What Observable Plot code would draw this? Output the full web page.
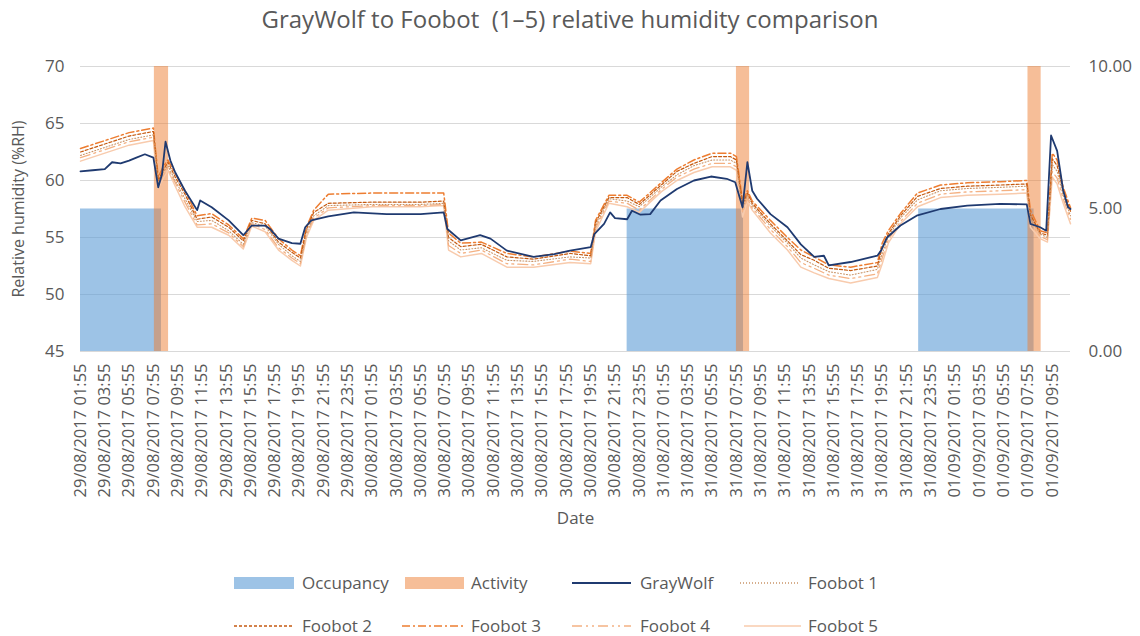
<!DOCTYPE html>
<html><head><meta charset="utf-8">
<script src="https://cdn.jsdelivr.net/npm/d3@7"></script>
<script src="https://cdn.jsdelivr.net/npm/@observablehq/plot@0.6"></script>
<style>
body{margin:0;background:#fff;font-family:"Open Sans",sans-serif;color:#595959;}
#title{height:40px;line-height:38px;text-align:center;font-size:24px;white-space:pre;}
#chart svg, #legend svg{display:block;}
</style></head><body>
<div id="title">GrayWolf to Foobot  (1–5) relative humidity comparison</div>
<div id="chart"></div>
<div id="legend"></div>
<script>
// ---- data ----
const tickLabels = [
 "29/08/2017 01:55","29/08/2017 03:55","29/08/2017 05:55","29/08/2017 07:55","29/08/2017 09:55","29/08/2017 11:55",
 "29/08/2017 13:55","29/08/2017 15:55","29/08/2017 17:55","29/08/2017 19:55","29/08/2017 21:55","29/08/2017 23:55",
 "30/08/2017 01:55","30/08/2017 03:55","30/08/2017 05:55","30/08/2017 07:55","30/08/2017 09:55","30/08/2017 11:55",
 "30/08/2017 13:55","30/08/2017 15:55","30/08/2017 17:55","30/08/2017 19:55","30/08/2017 21:55","30/08/2017 23:55",
 "31/08/2017 01:55","31/08/2017 03:55","31/08/2017 05:55","31/08/2017 07:55","31/08/2017 09:55","31/08/2017 11:55",
 "31/08/2017 13:55","31/08/2017 15:55","31/08/2017 17:55","31/08/2017 19:55","31/08/2017 21:55","31/08/2017 23:55",
 "01/09/2017 01:55","01/09/2017 03:55","01/09/2017 05:55","01/09/2017 07:55","01/09/2017 09:55"
];
const leftTicks = [45, 50, 55, 60, 65, 70];
const rightTicks = [0, 5, 10];

// Occupancy / Activity periods (secondary axis value)
const occStart = ["29/08/2017 01:55", "30/08/2017 22:55", "31/08/2017 22:55"];
const occEnd   = ["29/08/2017 08:35", "31/08/2017 08:30", "01/09/2017 08:25"];
const occValue = [5, 5, 5];
const actStart = ["29/08/2017 08:00", "31/08/2017 07:55", "01/09/2017 07:55"];
const actEnd   = ["29/08/2017 09:10", "31/08/2017 09:00", "01/09/2017 09:00"];
const actValue = [10, 10, 10];

// hours after 29/08/2017 01:55
const gwHours = [0,1,2,2.6,3.3,4,4.6,5.3,6,6.4,6.7,7.0,7.4,7.8,8.6,9.6,9.85,10.8,12.2,13.4,14.1,15.2,15.6,16.3,17.4,18.1,18.5,19.0,20.4,22.5,25.2,28,29.9,30.2,31.3,32.9,33.75,35.1,37.3,39,40.3,42.0,42.3,43.1,43.6,44.0,45.0,45.4,46.1,46.9,47.75,49.1,50.5,51.9,53.2,53.9,54.5,54.9,55.3,55.7,56.8,58.2,59.3,60.4,61.2,61.6,63.4,65.6,65.9,66.4,67.5,68.9,70.8,73.0,75.7,77.9,78.2,79.0,79.5,79.9,80.4,80.9,81.3,81.5];
const grayWolf = [60.8,60.9,61.0,61.6,61.5,61.75,62.0,62.3,62.0,59.4,60.5,63.4,61.75,60.7,59.1,57.4,58.25,57.65,56.5,55.2,56.05,56.05,55.75,54.9,54.5,54.45,55.9,56.5,56.85,57.2,57.05,57.05,57.2,55.75,54.75,55.2,54.9,53.85,53.3,53.55,53.85,54.15,55.3,56.2,57.2,56.7,56.6,57.35,57.0,57.05,58.25,59.25,60.0,60.35,60.15,59.85,57.65,61.6,59.1,58.4,57.05,55.9,54.4,53.3,53.4,52.55,52.85,53.4,53.85,55.0,56.05,56.95,57.5,57.8,57.95,57.9,56.2,55.9,55.6,63.95,62.6,59.1,57.65,57.5];

const fbHours = [0,2,4,6,6.4,6.8,7.2,7.8,8.6,9.6,10.8,12.2,13.4,14.1,15.2,16.3,17.4,18.1,18.6,19.2,20.4,24,28,29.9,30.3,31.3,33.0,35.1,37.3,40.3,42.0,42.4,43.5,45.0,46.0,47.8,49.1,50.5,52.0,53.5,54.0,54.5,54.9,55.3,56.8,58.2,59.3,60.4,61.6,63.4,65.6,66.0,66.5,67.5,68.9,70.8,73.0,75.7,77.9,78.2,79.0,79.6,80.0,80.4,80.9,81.5];
const foobot1 = [62.2,62.9,63.6,64.0,59.8,60.7,61.3,60.0,58.4,56.4,56.5,55.6,54.4,56.3,56.0,54.4,53.4,52.9,55.4,56.9,57.8,57.9,57.9,58.0,54.7,53.9,54.1,53.0,52.9,53.3,53.2,56.0,58.4,58.2,57.7,59.4,60.5,61.3,61.8,61.8,61.5,57.5,58.7,57.8,56.0,54.5,53.2,52.6,52.0,51.7,52.2,53.6,55.1,56.7,58.3,59.1,59.3,59.4,59.5,56.7,55.3,55.0,61.4,60.8,58.7,56.9];
const foobot2 = [62.5,63.2,63.9,64.3,60.0,60.9,61.6,60.3,58.8,56.6,56.8,55.9,54.7,56.5,56.2,54.6,53.7,53.2,55.7,57.2,58.0,58.1,58.1,58.2,55.0,54.2,54.4,53.3,53.1,53.6,53.4,56.3,58.5,58.5,57.9,59.6,60.8,61.5,62.1,62.1,61.8,57.9,58.9,58.0,56.2,54.7,53.5,53.0,52.3,52.1,52.5,54.1,55.3,56.9,58.6,59.3,59.5,59.6,59.7,57.0,55.4,55.2,61.9,61.3,59.1,57.3];
const foobot3 = [62.8,63.5,64.2,64.6,60.3,61.2,61.8,60.6,59.1,56.9,57.1,56.1,54.9,56.7,56.5,54.9,53.9,53.4,55.9,57.4,58.8,58.9,58.9,58.9,55.4,54.5,54.6,53.6,53.3,53.8,53.6,56.5,58.7,58.7,58.1,59.8,61.0,61.8,62.4,62.4,62.1,58.2,59.1,58.2,56.5,55.0,53.9,53.3,52.6,52.4,52.8,54.5,55.6,57.1,58.9,59.6,59.8,59.9,60.0,57.4,55.6,55.4,62.4,61.8,59.4,57.6];
const foobot4 = [62.0,62.7,63.4,63.8,59.5,60.4,61.1,59.8,58.1,56.1,56.2,55.4,54.2,56.2,55.7,54.1,53.2,52.7,55.2,56.7,57.6,57.8,57.8,57.9,54.3,53.6,53.9,52.7,52.6,53.1,52.9,55.8,58.2,58.0,57.4,59.2,60.3,61.0,61.5,61.5,61.2,57.2,58.4,57.6,55.7,54.2,52.8,52.3,51.7,51.4,51.8,53.2,54.8,56.4,58.0,58.8,59.0,59.1,59.2,56.3,55.1,54.8,60.8,60.2,58.4,56.6];
const foobot5 = [61.7,62.4,63.1,63.5,59.3,60.2,60.9,59.5,57.7,55.9,55.9,55.2,54.0,56.0,55.5,53.9,53.0,52.5,55.0,56.5,57.4,57.7,57.7,57.8,53.9,53.3,53.6,52.4,52.4,52.8,52.7,55.5,58.0,57.7,57.2,59.0,60.0,60.7,61.2,61.2,60.9,56.8,58.2,57.4,55.4,53.9,52.4,51.9,51.4,51.0,51.5,52.7,54.5,56.2,57.7,58.5,58.7,58.8,58.9,55.9,54.9,54.6,60.3,59.7,58.0,56.2];
const lastHour = 81.5;

// ---- helpers ----
const parse = d3.utcParse("%d/%m/%Y %H:%M");
const fmt = d3.utcFormat("%d/%m/%Y %H:%M");
const start = parse(tickLabels[0]);
const toDate = h => new Date(+start + h * 3600000);
const sec = v => 45 + v * 2.5; // secondary axis (0–10) onto primary (45–70)

const series = (hours, vals) => hours.map((h, i) => ({t: toDate(h), v: vals[i]}));
const occ = occStart.map((s, i) => ({x1: parse(s), x2: parse(occEnd[i]), y: sec(occValue[i])}));
const act = actStart.map((s, i) => ({x1: parse(s), x2: parse(actEnd[i]), y: sec(actValue[i])}));

const styles = {
  "GrayWolf": {stroke: "#1F3A70", strokeWidth: 1.8, dash: null},
  "Foobot 1": {stroke: "#C99468", strokeWidth: 1.1, dash: "1,2"},
  "Foobot 2": {stroke: "#C55A11", strokeWidth: 1.2, dash: "3,2"},
  "Foobot 3": {stroke: "#ED7D31", strokeWidth: 1.5, dash: "8,3,2,3"},
  "Foobot 4": {stroke: "#F4B183", strokeWidth: 1.3, dash: "10,4,2,4,2,4"},
  "Foobot 5": {stroke: "#F8CBAD", strokeWidth: 1.5, dash: null}
};
const lineMark = (data, name) => Plot.line(data, {x: "t", y: "v", stroke: styles[name].stroke,
  strokeWidth: styles[name].strokeWidth, strokeDasharray: styles[name].dash || undefined, strokeLinejoin: "round"});

const chart = Plot.plot({
  width: 1140, height: 500,
  marginTop: 26, marginBottom: 189, marginLeft: 80, marginRight: 70,
  style: {fontFamily: "'Open Sans', sans-serif", fontSize: "17px", color: "#595959", background: "#fff"},
  x: {type: "utc", domain: [start, toDate(lastHour)]},
  y: {domain: [45, 70]},
  marks: [
    Plot.gridY(leftTicks, {stroke: "#D9D9D9", strokeOpacity: 1, strokeWidth: 1}),
    Plot.rect(occ, {x1: "x1", x2: "x2", y1: 45, y2: "y", fill: "#5B9BD5", fillOpacity: 0.6}),
    Plot.rect(act, {x1: "x1", x2: "x2", y1: 45, y2: "y", fill: "#ED7D31", fillOpacity: 0.5}),
    lineMark(series(fbHours, foobot5), "Foobot 5"),
    lineMark(series(fbHours, foobot4), "Foobot 4"),
    lineMark(series(fbHours, foobot3), "Foobot 3"),
    lineMark(series(fbHours, foobot2), "Foobot 2"),
    lineMark(series(fbHours, foobot1), "Foobot 1"),
    lineMark(series(gwHours, grayWolf), "GrayWolf"),
    Plot.axisY(leftTicks, {anchor: "left", tickSize: 0, tickPadding: 16, label: null, fontSize: 17}),
    Plot.axisY(rightTicks.map(sec), {anchor: "right", tickSize: 0, tickPadding: 18, label: null, fontSize: 17,
      tickFormat: d => d3.format(".2f")((d - 45) / 2.5)}),
    Plot.axisX(tickLabels.map(parse), {anchor: "bottom", tickSize: 0, tickPadding: 12, tickRotate: -90,
      tickFormat: fmt, label: null, fontSize: 16.5}),
    Plot.text(["Date"], {frameAnchor: "bottom", dy: 172, fontSize: 17, fill: "#595959"}),
    Plot.text(["Relative humidity (%RH)"], {frameAnchor: "left", dx: -62, rotate: -90, textAnchor: "middle", fontSize: 16, fill: "#595959"})
  ]
});
document.getElementById("chart").appendChild(chart);

// ---- legend ----
const legendNames = ["Occupancy", "Activity", "GrayWolf", "Foobot 1", "Foobot 2", "Foobot 3", "Foobot 4", "Foobot 5"];
const svg = d3.select("#legend").append("svg").attr("width", 1140).attr("height", 96)
  .style("font-family", "'Open Sans', sans-serif").style("font-size", "17px");
const colX = [[234, 294, 302], [405, 464, 471], [572, 631, 640], [740, 799, 808]];
const colX2 = [[234, 294, 302], [402, 466, 471], [572, 631, 640], [744, 801, 808]];
const rowY = [43, 86];
legendNames.forEach((name, i) => {
  const row = i < 4 ? 0 : 1, col = i % 4;
  const [a, b, tx] = (row === 0 ? colX : colX2)[col];
  const y = rowY[row];
  if (name === "Occupancy" || name === "Activity") {
    svg.append("rect").attr("x", a).attr("y", y - 6).attr("width", b - a).attr("height", 12)
      .attr("fill", name === "Occupancy" ? "#5B9BD5" : "#ED7D31")
      .attr("fill-opacity", name === "Occupancy" ? 0.6 : 0.5);
  } else {
    const s = styles[name];
    svg.append("line").attr("x1", a).attr("x2", b).attr("y1", y).attr("y2", y)
      .attr("stroke", s.stroke).attr("stroke-width", s.strokeWidth + 0.2)
      .attr("stroke-dasharray", s.dash);
  }
  svg.append("text").attr("x", tx).attr("y", y).attr("dy", "0.35em").attr("fill", "#595959").text(name);
});
</script></body></html>
